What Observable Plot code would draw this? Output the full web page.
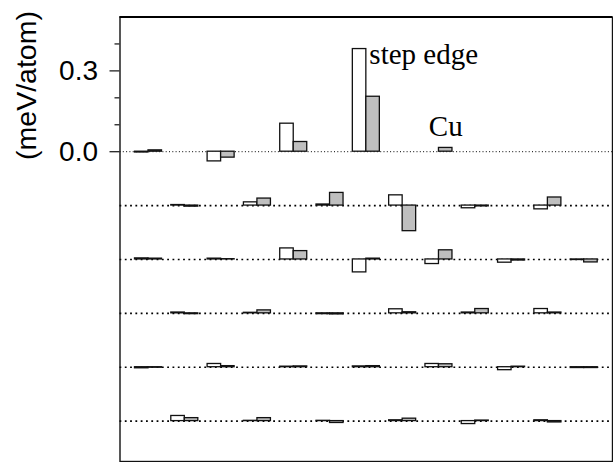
<!DOCTYPE html>
<html>
<head>
<meta charset="utf-8">
<script src="https://cdn.jsdelivr.net/npm/d3@7"></script>
<script src="https://cdn.jsdelivr.net/npm/@observablehq/plot@0.6"></script>
<style>
  html, body { margin: 0; padding: 0; background: #fff; }
  #chart svg { display: block; }
</style>
</head>
<body>
<div id="chart"></div>
<script>
// Row baselines (meV/atom offsets); even rows sit on even lattice columns, odd rows on odd ones
const rowOffset = [0, -0.2, -0.4, -0.6, -0.8, -1.0];

// White-bar values per row (meV/atom), left to right
const white = [
  [-0.003, -0.036, 0.104, 0.381, 0.000],
  [0.002, 0.012, 0.004, 0.038, -0.010, -0.014],
  [0.004, 0.003, 0.041, -0.048, -0.017, -0.012, -0.002],
  [0.003, 0.002, -0.003, 0.015, 0.003, 0.016],
  [-0.004, 0.012, 0.002, 0.003, 0.012, -0.011, -0.003],
  [0.019, 0.001, 0.001, 0.003, -0.011, 0.003]
];

// Gray-bar values per row (meV/atom), left to right
const gray = [
  [0.005, -0.022, 0.036, 0.204, 0.014],
  [-0.004, 0.026, 0.047, -0.095, -0.003, 0.030],
  [0.003, 0.001, 0.031, 0.003, 0.034, -0.004, -0.011],
  [-0.003, 0.011, -0.004, 0.004, 0.016, 0.003],
  [-0.002, 0.004, 0.003, 0.004, 0.011, 0.002, -0.003],
  [0.011, 0.011, -0.007, 0.009, 0.002, -0.005]
];

// Tick values and labels
const majorTicks = [0.0, 0.3];
const minorTicks = [0.1, 0.2, 0.4];
const yLabel = "(meV/atom)";

// Annotations: text, row, pair index, series
const annotations = [
  {label: "step edge", row: 0, pair: 3, series: "white"},
  {label: "Cu", row: 0, pair: 4, series: "gray"}
];

const W = 0.372; // bar width in lattice units
const yDomain = [-1.15, 0.5];

const colOf = (r, i) => 2 * i + (r % 2);
const bars = [];
rowOffset.forEach((base, r) => {
  white[r].forEach((v, i) => bars.push({series: "white", col: colOf(r, i), base, value: v}));
  gray[r].forEach((v, i) => bars.push({series: "gray", col: colOf(r, i), base, value: v}));
});
const ann = annotations.map(a => {
  const arr = a.series === "white" ? white : gray;
  return {...a, col: colOf(a.row, a.pair), base: rowOffset[a.row], value: arr[a.row][a.pair]};
});

const chart = Plot.plot({
  width: 613,
  height: 462,
  marginLeft: 119.5,
  marginRight: 1,
  marginTop: 16.5,
  marginBottom: 1,
  style: {fontFamily: "'Liberation Sans', Arial, sans-serif", background: "#fff", color: "#000"},
  x: {domain: [-0.785, 12.78], axis: null},
  y: {domain: yDomain, axis: null},
  marks: [
    // dotted baselines
    Plot.ruleY(rowOffset.slice(0, 1), {stroke: "#000", strokeWidth: 1, strokeDasharray: "1,2.3"}),
    Plot.ruleY(rowOffset.slice(1), {stroke: "#000", strokeWidth: 1.6, strokeDasharray: "1.8,3.5"}),
    // white bars
    Plot.rect(bars.filter(d => d.series === "white"), {
      x1: d => d.col - W, x2: d => d.col,
      y1: d => d.base, y2: d => d.base + d.value,
      fill: "#fff", stroke: "#111", strokeWidth: 1.3
    }),
    // gray bars
    Plot.rect(bars.filter(d => d.series === "gray"), {
      x1: d => d.col, x2: d => d.col + W,
      y1: d => d.base, y2: d => d.base + d.value,
      fill: "#bfbfbf", stroke: "#111", strokeWidth: 1.3
    }),
    // frame
    Plot.frame({stroke: "#111", strokeWidth: 1.4}),
    Plot.ruleY([yDomain[1]], {stroke: "#000", strokeWidth: 2.2}),
    // y axis
    Plot.axisY(majorTicks, {
      anchor: "left", tickSize: 10, tickPadding: 12, tickFormat: d3.format(".1f"),
      fontSize: 28, stroke: "#222", strokeWidth: 1.3, fill: "#000", label: null
    }),
    Plot.axisY(minorTicks, {
      anchor: "left", tickSize: 5, tickFormat: null, text: null,
      stroke: "#222", strokeWidth: 1.3, label: null
    }),
    Plot.text([yLabel], {
      frameAnchor: "top-left", rotate: -90, dx: -93.6, dy: 68.5,
      textAnchor: "middle", lineAnchor: "middle", fontSize: 28.5, fill: "#000"
    }),
    // annotations
    Plot.text(ann.filter(d => d.series === "white"), {
      x: d => d.col, y: d => d.base + d.value, text: "label",
      textAnchor: "start", lineAnchor: "bottom", dx: 3, dy: 14.5,
      fontFamily: "'Liberation Serif', 'Times New Roman', serif", fontSize: 29, fill: "#000"
    }),
    Plot.text(ann.filter(d => d.series === "gray"), {
      x: d => d.col + W / 2, y: d => d.base + d.value, text: "label",
      textAnchor: "middle", lineAnchor: "bottom", dy: -12,
      fontFamily: "'Liberation Serif', 'Times New Roman', serif", fontSize: 29, fill: "#000"
    })
  ]
});
document.getElementById("chart").appendChild(chart);
</script>
</body>
</html>
